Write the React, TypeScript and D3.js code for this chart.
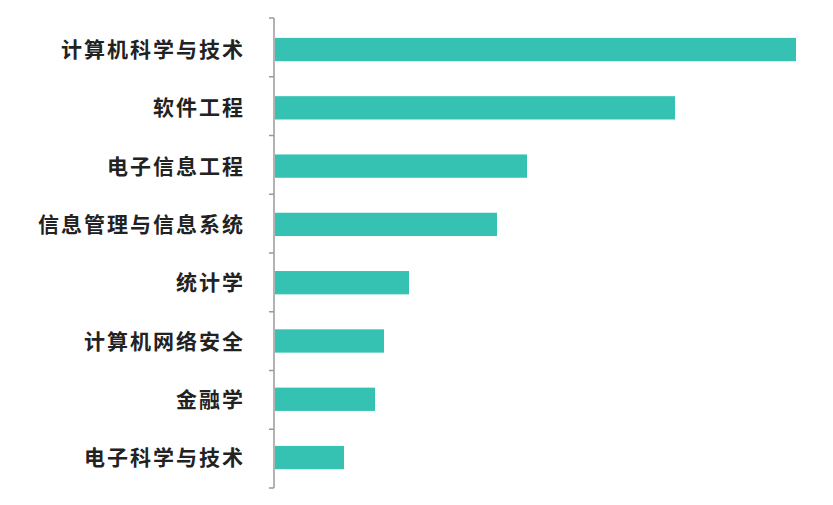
import { useEffect, useRef } from 'react'
import * as d3 from 'd3'

const majors = [
  '计算机科学与技术',
  '软件工程',
  '电子信息工程',
  '信息管理与信息系统',
  '统计学',
  '计算机网络安全',
  '金融学',
  '电子科学与技术',
]
const counts = [521, 400, 252, 222, 134, 109, 100, 69]

export default function App() {
  const svgRef = useRef<SVGSVGElement>(null)

  useEffect(() => {
    if (!svgRef.current) return
    const svg = d3.select(svgRef.current)
    svg.selectAll('*').remove()

    const width = 833
    const height = 505
    const axisX = 274
    svg.attr('width', width).attr('height', height)

    // band scale for the axis ticks (ticks sit between categories)
    const yAxis = d3.scaleBand<string>()
      .domain(majors)
      .range([18, 488])
      .paddingInner(0.6)
      .paddingOuter(0.3)

    // bars sit a touch tighter than the axis bands
    const y = d3.scaleBand<string>()
      .domain(majors)
      .range([20.4, 486.7])
      .paddingInner(0.6)
      .paddingOuter(0.3)

    const x = d3.scaleLinear()
      .domain([0, d3.max(counts) as number])
      .range([axisX + 1, 796])

    // bars
    svg.append('g')
      .selectAll('rect')
      .data(majors)
      .enter()
      .append('rect')
      .attr('x', x(0))
      .attr('y', d => y(d) as number)
      .attr('width', (_d, i) => x(counts[i]) - x(0))
      .attr('height', y.bandwidth())
      .attr('fill', '#36c2b3')

    // axis line with ticks between categories
    const axis = svg.append('g').attr('stroke', '#9a9a9a').attr('stroke-width', 1.5)
    axis.append('line')
      .attr('x1', axisX).attr('x2', axisX)
      .attr('y1', 18).attr('y2', 488)
    const step = yAxis.step()
    axis.selectAll('line.tick')
      .data(d3.range(majors.length + 1))
      .enter()
      .append('line')
      .attr('class', 'tick')
      .attr('x1', axisX - 5).attr('x2', axisX)
      .attr('y1', i => 18 + i * step)
      .attr('y2', i => 18 + i * step)

    // category labels
    svg.append('g')
      .selectAll('text')
      .data(majors)
      .enter()
      .append('text')
      .attr('x', 245)
      .attr('y', d => (y(d) as number) + y.bandwidth() / 2)
      .attr('dy', '0.36em')
      .attr('text-anchor', 'end')
      .style('font-family', '"Noto Sans CJK SC", sans-serif')
      .style('font-size', '21px')
      .style('font-weight', 'bold')
      .style('letter-spacing', '2px')
      .style('fill', '#222')
      .text(d => d)
  }, [])

  return <svg ref={svgRef} style={{ position: 'absolute', left: 0, top: 0 }} />
}
